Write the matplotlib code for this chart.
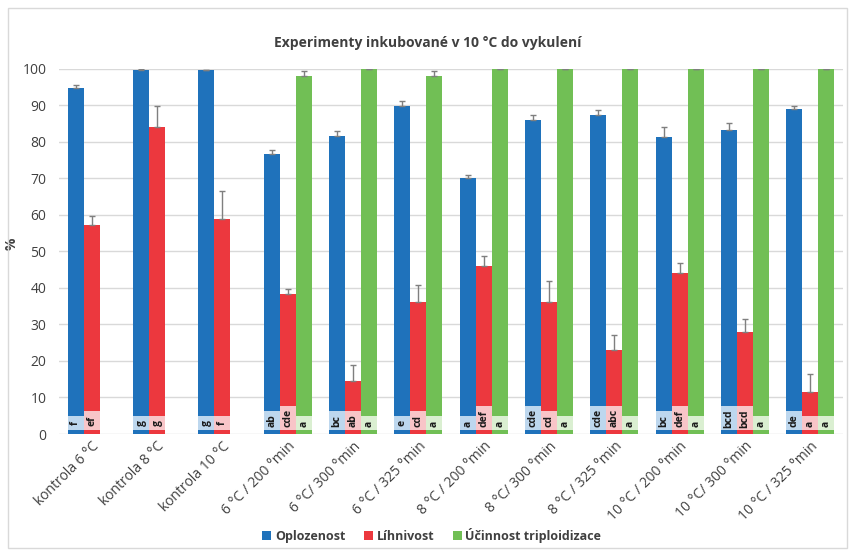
import numpy as np
import matplotlib.pyplot as plt
from matplotlib.patches import Rectangle

plt.rcParams['font.family'] = ['Open Sans', 'DejaVu Sans']

# data
categories = ['kontrola 6 °C', 'kontrola 8 °C', 'kontrola 10 °C',
              '6 °C / 200 °min', '6 °C/ 300 °min', '6 °C / 325 °min',
              '8 °C / 200 °min', '8 °C/ 300 °min', '8 °C / 325 °min',
              '10 °C / 200 °min', '10 °C/ 300 °min', '10 °C / 325 °min']

oplozenost = [94.8, 99.8, 99.6, 76.8, 81.5, 89.7, 70.0, 86.1, 87.4, 81.2, 83.3, 88.9]
oplozenost_err = [0.9, 0.2, 0.2, 1.1, 1.6, 1.4, 0.8, 1.3, 1.3, 3.0, 1.8, 1.0]
oplozenost_lbl = ['f', 'g', 'g', 'ab', 'bc', 'e', 'a', 'cde', 'cde', 'bc', 'bcd', 'de']

lihnivost = [57.2, 84.2, 58.8, 38.4, 14.6, 36.2, 45.9, 36.1, 23.1, 44.2, 28.0, 11.5]
lihnivost_err = [2.5, 5.5, 7.8, 1.4, 4.4, 4.5, 2.9, 5.9, 4.0, 2.6, 3.4, 4.9]
lihnivost_lbl = ['ef', 'g', 'f', 'cde', 'ab', 'cd', 'def', 'cd', 'abc', 'def', 'bcd', 'a']

ucinnost = [np.nan, np.nan, np.nan, 97.9, 100, 97.9, 100, 100, 100, 100, 100, 100]
ucinnost_err = [0, 0, 0, 1.6, 0, 1.6, 0, 0, 0, 0, 0, 0]
ucinnost_lbl = ['', '', '', 'a', 'a', 'a', 'a', 'a', 'a', 'a', 'a', 'a']

series = [
    ('Oplozenost', oplozenost, oplozenost_err, oplozenost_lbl, '#1f72bb', '#bdd7ee'),
    ('Líhnivost', lihnivost, lihnivost_err, lihnivost_lbl, '#ec383e', '#f8c5c8'),
    ('Účinnost triploidizace', ucinnost, ucinnost_err, ucinnost_lbl, '#71bf55', '#daefd1'),
]

fig = plt.figure(figsize=(8.55, 5.55), dpi=100)
ax = fig.add_axes([0.069, 0.218, 0.917, 0.658])

# chart frame like in Excel
fig.patches.append(Rectangle((0.009, 0.012), 0.982, 0.974, transform=fig.transFigure,
                             fill=False, edgecolor='#d9d9d9', linewidth=1.0))

x = np.arange(len(categories))
w = 0.245
for i, (name, vals, errs, lbls, col, light) in enumerate(series):
    pos = x + (i - 1) * w
    vals = np.array(vals, dtype=float)
    ax.bar(pos, vals, w, color=col, label=name, zorder=2)
    ok = ~np.isnan(vals)
    errs = np.array(errs)
    ax.errorbar(pos[ok], vals[ok], yerr=[np.zeros(ok.sum()), errs[ok]], fmt='none',
                ecolor='#7f7f7f', elinewidth=1.0, capsize=2.5, capthick=1.0, zorder=3)
    # significance letters in pale boxes at the bottom of bars
    for p, v, lab in zip(pos, vals, lbls):
        if np.isnan(v) or not lab:
            continue
        h = 2.4 + 1.4 * len(lab)
        ax.bar(p, h, w, bottom=1.0, color=light, zorder=3)
        ax.text(p, 1.0 + h / 2, lab, rotation=90, ha='center', va='center',
                fontsize=7.5, fontweight='bold', color='#1a1a1a', zorder=4)

ax.set_ylim(0, 100)
ax.set_xlim(-0.5, len(categories) - 0.5)
ax.set_yticks(range(0, 101, 10))
ax.yaxis.grid(True, color='#d9d9d9', linewidth=1.0, zorder=0)
ax.set_axisbelow(True)
for s in ax.spines.values():
    s.set_visible(False)
ax.tick_params(axis='both', length=0, labelsize=10, colors='#404040')
ax.tick_params(axis='y', pad=9)
ax.set_xticks(x)
ax.set_xticklabels(categories, rotation=45, ha='right', rotation_mode='anchor')
ax.set_ylabel('%', fontsize=10, fontweight='bold', color='#404040')
ax.yaxis.set_label_coords(-0.052, 0.52)

fig.text(0.5, 0.923, 'Experimenty inkubované v 10 °C do vykulení', ha='center',
         va='center', fontsize=10, fontweight='bold', color='#404040')

leg = fig.legend(loc='center', bbox_to_anchor=(0.505, 0.036), ncol=3, frameon=False,
                 fontsize=9, handlelength=0.7, handleheight=0.7, handletextpad=0.3,
                 columnspacing=1.5)
for t in leg.get_texts():
    t.set_fontweight('bold')
    t.set_color('#404040')

fig.savefig('out.png', dpi=100)
